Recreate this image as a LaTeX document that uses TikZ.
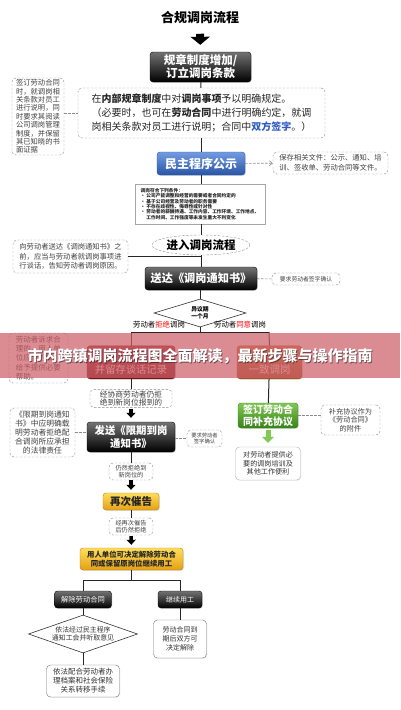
\documentclass[tikz,border=0pt]{standalone}
\usepackage{fontspec}
\setmainfont{Noto Sans CJK SC}
\usetikzlibrary{shapes.geometric,arrows.meta,shadows}

\definecolor{bandpink}{RGB}{205,95,105}
\definecolor{bluetop}{RGB}{115,155,225}
\definecolor{bluebot}{RGB}{40,85,165}
\definecolor{redtop}{RGB}{165,45,45}
\definecolor{redbot}{RGB}{115,20,20}
\definecolor{browntop}{RGB}{205,125,65}
\definecolor{brownbot}{RGB}{160,85,35}
\definecolor{greentop}{RGB}{130,200,85}
\definecolor{greenbot}{RGB}{55,130,25}
\definecolor{goldtop}{RGB}{255,222,90}
\definecolor{goldbot}{RGB}{228,160,20}
\definecolor{signblue}{RGB}{45,90,195}
\definecolor{notegray}{RGB}{140,140,140}

\newcommand{\fs}[2]{\fontsize{#1}{#2}\selectfont}

\tikzset{
  darkbox/.style={rounded corners=3pt, draw=black, top color=black!55, bottom color=black,
    text=white, align=center, inner sep=1pt,
    drop shadow={opacity=0.25,shadow xshift=0.8pt,shadow yshift=-0.8pt}},
  bluebox/.style={darkbox, draw=bluebot, top color=bluetop, bottom color=bluebot},
  redbox/.style={darkbox, draw=redbot, top color=redtop, bottom color=redbot},
  brownbox/.style={darkbox, draw=brownbot, top color=browntop, bottom color=brownbot},
  greenbox/.style={darkbox, draw=greenbot, top color=greentop, bottom color=greenbot},
  goldbox/.style={darkbox, draw=goldbot!80!black, top color=goldtop, bottom color=goldbot, text=black!85},
  note/.style={draw=notegray, dash pattern=on 2.5pt off 1.5pt, rounded corners=4pt,
    align=center, text=black!75, inner sep=1pt},
  plainbox/.style={draw=black!55, rounded corners=4pt, align=center, text=black!80, inner sep=1pt,
    fill=white, drop shadow={opacity=0.15,shadow xshift=0.8pt,shadow yshift=-0.8pt}},
  link/.style={draw=black!85, line width=1pt},
  notelink/.style={draw=notegray, dash pattern=on 2.5pt off 1.5pt, line width=0.6pt},
  blockarrow/.style={draw=black, line width=3.5pt, -{Triangle[width=9pt,length=5pt]}},
}

\begin{document}
\begin{tikzpicture}[x=1pt,y=-1pt]
  \useasboundingbox (0,0) rectangle (400,710);

  \node[font=\fs{13}{15}\bfseries] (title) at (200,18) {合规调岗流程};
  \node[darkbox, minimum width=101pt, minimum height=30pt, font=\fs{11.5}{13}\bfseries] (rule) at (200.5,67)
    {规章制度增加/\\订立调岗条款};
  \node[note, minimum width=247pt, minimum height=50pt, align=left, text=black!85,
    font=\fs{10}{14}] (inner) at (201.5,113)
    {在\textbf{内部规章制度}中对\textbf{调岗事项}予以明确规定。\\
     （必要时，也可在\textbf{劳动合同}中进行明确约定，就调\\
     岗相关条款对员工进行说明；合同中\textbf{\textcolor{signblue}{双方签字}}。）};
  \node[note, minimum width=52pt, minimum height=77pt, align=left, font=\fs{7.3}{8.4}] (sign1) at (38,116.5)
    {签订劳动合同\\时，就调岗相\\关条款对员工\\进行说明，同\\时要求其阅读\\公司调岗管理\\制度，并保留\\其已知晓的书\\面证据};

  \node[bluebox, minimum width=88pt, minimum height=23pt, font=\fs{12}{14}\bfseries] (demo) at (201,163.5)
    {民主程序公示};
  \node[note, minimum width=115pt, minimum height=22pt, align=left, font=\fs{7.3}{10}] (keep) at (330.5,163)
    {保存相关文件：公示、通知、培\\训、签收单、劳动合同等文件。};

  \node[plainbox, draw=black!35, rounded corners=0pt, minimum width=130pt, minimum height=40pt,
    align=left, text=black!85, font=\fs{4.7}{5.4}\bfseries] (cond) at (200,204)
    {调岗符合下列条件：\\
     • 公司产能调整和经营的需要或者合同约定的\\
     • 基于公司经营及劳动者的职务需要\\
     • 不存在歧视性、侮辱性或针对性\\
     • 劳动者的薪酬待遇、工作内容、工作环境、工作地点、\\
     \phantom{• }工作时间、工作强度等未发生重大不利变化};

  \node[ellipse, draw=notegray, dash pattern=on 2.5pt off 1.5pt, minimum width=98pt,
    minimum height=20pt, inner sep=0pt, font=\fs{11.5}{13}\bfseries] (enter) at (201,245)
    {进入调岗流程};
  \node[note, minimum width=115pt, minimum height=33pt, align=left, font=\fs{7.3}{9.5}] (talk) at (70.5,256.5)
    {向劳动者送达《调岗通知书》之\\前，应当与劳动者就调岗事项进\\行谈话，告知劳动者调岗原因。};

  \node[darkbox, minimum width=112pt, minimum height=23pt, font=\fs{11.2}{13}\bfseries] (notice) at (201,278.5)
    {送达《调岗通知书》};
  \node[note, minimum width=68pt, minimum height=12pt, font=\fs{5.8}{7}] (sign2) at (306,279)
    {要求劳动者签字确认};

  \node[diamond, draw=black!80, line width=0.6pt, aspect=3.3, minimum width=92pt,
    minimum height=28pt, inner sep=0pt, align=center, font=\fs{5.8}{7}\bfseries] (period) at (200,313)
    {异议期\\一个月};
  \node[font=\fs{7.4}{8}] (refuse) at (159,325) {劳动者\textcolor{red}{拒绝}调岗};
  \node[font=\fs{7.4}{8}] (agree) at (240,325) {劳动者\textcolor{red}{同意}调岗};

  \coordinate (fork) at (200,332);
  \coordinate (forkL) at (131,332);
  \coordinate (forkR) at (269,332);

  \node[redbox, minimum width=88pt, minimum height=33pt, anchor=south, text height=24pt,
    text depth=2.5pt, font=\fs{10.3}{12}] (record) at (131,379)
    {并留存谈话记录};
  \node[brownbox, minimum width=65pt, minimum height=33pt, anchor=south, text height=24pt,
    text depth=2.5pt, font=\fs{10.5}{12}] (consent) at (269.5,379)
    {一致调岗};
  \node[note, minimum width=59pt, minimum height=50pt, align=left, font=\fs{7.5}{9.3}] (help) at (38.5,358)
    {劳动者诉求合\\理的，用人单\\位应当酌情\\给予提供必要\\帮助。};

  \node[note, minimum width=82pt, minimum height=17pt, font=\fs{7.8}{8.5}] (nego) at (131,398.5)
    {经协商劳动者仍拒\\绝到新岗位报到的};
  \node[darkbox, minimum width=88pt, minimum height=30pt, font=\fs{10.4}{13.5}\bfseries] (deadline) at (131,437)
    {发送《限期到岗\\通知书》};
  \node[note, minimum width=65pt, minimum height=49pt, font=\fs{7.8}{8.8}] (law) at (42.5,432.5)
    {《限期到岗通知\\书》中应明确载\\明劳动者拒绝配\\合调岗所应承担\\的法律责任};
  \node[note, minimum width=35pt, minimum height=17pt, font=\fs{5.3}{6.5}] (sign3) at (204.5,438.5)
    {要求劳动者\\签字确认};
  \node[note, minimum width=44pt, minimum height=17pt, font=\fs{6.2}{7}] (still) at (131,471.5)
    {仍然拒绝到\\新岗位的};
  \node[goldbox, minimum width=56pt, minimum height=17pt, font=\fs{10.5}{12}\bfseries] (urge) at (131,501.5)
    {再次催告};
  \node[note, minimum width=44pt, minimum height=17pt, font=\fs{6.2}{7}] (again) at (131,526.5)
    {经再次催告\\后仍然拒绝};
  \node[goldbox, minimum width=103pt, minimum height=22pt, font=\fs{7.4}{9}\bfseries] (decide) at (131.5,559)
    {用人单位可决定解除劳动合\\同或保留原岗位继续用工};

  \coordinate (fork2) at (131.5,580);
  \coordinate (fork2L) at (83,580);
  \coordinate (fork2R) at (180,580);

  \node[darkbox, minimum width=57pt, minimum height=17pt, font=\fs{7.3}{8}] (dismiss) at (83,599.5)
    {解除劳动合同};
  \node[darkbox, minimum width=44pt, minimum height=17pt, font=\fs{7}{8}] (stay) at (180,599.5)
    {继续用工};
  \node[diamond, draw=black!80, line width=0.6pt, aspect=2.9, minimum width=109pt,
    minimum height=38pt, inner sep=0pt, align=center, text=black!80, font=\fs{6.9}{8}] (union) at (83,634)
    {依法经过民主程序\\通知工会并听取意见};
  \node[plainbox, minimum width=73pt, minimum height=32pt, font=\fs{7.5}{9}] (transfer) at (83,681)
    {依法配合劳动者办\\理档案和社会保险\\关系转移手续};
  \node[plainbox, minimum width=53pt, minimum height=38pt, font=\fs{7}{9}] (expire) at (180,639)
    {劳动合同到\\期后双方可\\决定解除};

  \node[greenbox, minimum width=60pt, minimum height=25pt, font=\fs{10}{11.5}\bfseries] (supple) at (268,415.5)
    {签订劳动合\\同补充协议};
  \node[note, minimum width=59pt, minimum height=30pt, font=\fs{7.2}{8.3}] (annex) at (350.5,420)
    {补充协议作为\\《劳动合同》\\的附件};
  \node[plainbox, draw=black!30, minimum width=65pt, minimum height=33pt, font=\fs{7.1}{8.7}] (train) at (268,463.5)
    {对劳动者提供必\\要的调岗培训及\\其他工作便利};

  \draw[blockarrow, line width=8pt, -{Triangle[width=19pt,length=8pt]}, shorten <=6pt, shorten >=7pt]
    (title) -- (rule);
  \draw[link] (rule) -- (inner);
  \draw[notelink] (sign1.east |- inner.west) -- (inner.west);
  \draw[link] (inner.south -| demo.north) -- (demo);
  \draw[notelink, -{Straight Barb[length=3pt,width=5pt]}] (demo) -- (keep);
  \draw[link] (demo) -- (demo.south |- cond.north);
  \draw[link] (demo.south |- cond.south) -- (enter);
  \draw[link] (enter) -- (notice);
  \draw[link] (talk.east) -- (talk.east -| notice.north);
  \draw[notelink] (notice) -- (sign2);
  \draw[link] (notice.south -| period.north) -- (period);
  \draw[link] (period.south) -- (fork);
  \draw[link] (forkL) -- (forkR);
  \draw[link] (forkL) -- (record.north);
  \draw[link] (forkR) -- (consent.north);
  \draw[notelink] (help.east |- record.west) -- (record.west);
  \draw[link] (record) -- (nego);
  \draw[blockarrow, shorten <=1pt, shorten >=4pt] (nego) -- (deadline);
  \draw[notelink] (law) -- (law -| deadline.west);
  \draw[notelink] (deadline.east |- sign3.west) -- (sign3);
  \draw[link] (deadline) -- (still);
  \draw[blockarrow, shorten <=0pt, shorten >=3pt] (still) -- (urge);
  \draw[link] (urge) -- (again);
  \draw[blockarrow, shorten <=1pt, shorten >=3pt] (again) -- (decide);
  \draw[link] (decide) -- (fork2);
  \draw[link] (fork2L) -- (fork2R);
  \draw[link] (fork2L) -- (dismiss);
  \draw[link] (fork2R) -- (stay);
  \draw[link] (dismiss) -- (union);
  \draw[link] (union) -- (transfer);
  \draw[link] (stay) -- (expire);
  \draw[link] (consent) -- (supple);
  \draw[notelink] (supple) -- (supple -| annex.west);
  \draw[blockarrow, draw=greentop, line width=5pt, -{Triangle[width=12pt,length=6pt]},
    shorten <=2pt, shorten >=4pt] (supple) -- (train);

  \fill[bandpink, opacity=0.72] (0,333) rectangle (400,378);
  \node[text=black, opacity=0.5, font=\fs{15}{17}\bfseries] (bannershadow) at (200.8,357.3)
    {市内跨镇调岗流程图全面解读，最新步骤与操作指南};
  \node[text=white, font=\fs{15}{17}\bfseries] (banner) at (200,356.5)
    {市内跨镇调岗流程图全面解读，最新步骤与操作指南};
\end{tikzpicture}
\end{document}
